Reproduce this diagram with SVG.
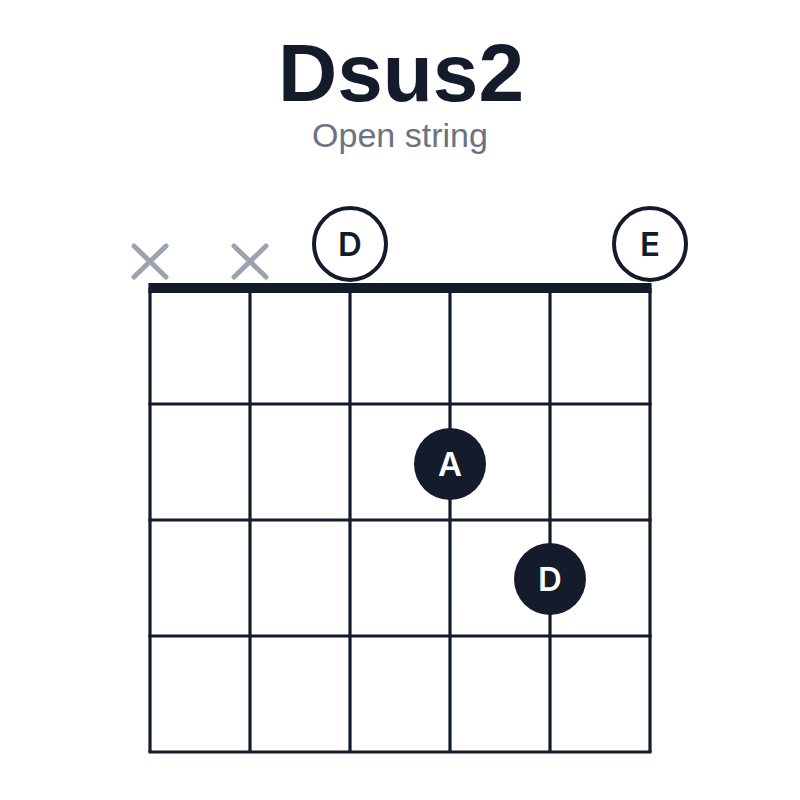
<svg xmlns="http://www.w3.org/2000/svg" width="800" height="800" viewBox="0 0 800 800">
<style>
.title{font-family:"Liberation Sans",Arial,sans-serif;font-weight:bold;font-size:82px;fill:#141b2b;text-anchor:middle}
.sub{font-family:"Liberation Sans",Arial,sans-serif;font-size:34px;fill:#6b7280;text-anchor:middle}
.grid{stroke:#141b2b;stroke-width:3.2;fill:none}
.mute{stroke:#9ca3af;stroke-width:5;stroke-linecap:round}
.open{fill:#fff;stroke:#141b2b;stroke-width:4}
.dot{fill:#141b2b}
.lbl{font-family:Inter,"Liberation Sans",sans-serif;font-weight:600;font-size:33px;text-anchor:middle;dominant-baseline:central}
.lo{fill:#141b2b}
.lf{fill:#fff}
</style>
<rect width="800" height="800" fill="#fff"/>
<text class="title" x="401" y="101">Dsus2</text>
<text class="sub" x="400" y="147">Open string</text>
<g id="grid">
<line class="grid" x1="150" y1="288" x2="150" y2="752"/>
<line class="grid" x1="250" y1="288" x2="250" y2="752"/>
<line class="grid" x1="350" y1="288" x2="350" y2="752"/>
<line class="grid" x1="450" y1="288" x2="450" y2="752"/>
<line class="grid" x1="550" y1="288" x2="550" y2="752"/>
<line class="grid" x1="650" y1="288" x2="650" y2="752"/>
<line class="grid" x1="148.4" y1="404" x2="651.6" y2="404"/>
<line class="grid" x1="148.4" y1="520" x2="651.6" y2="520"/>
<line class="grid" x1="148.4" y1="636" x2="651.6" y2="636"/>
<line class="grid" x1="148.4" y1="752" x2="651.6" y2="752"/>
<rect id="nut" x="148.4" y="283" width="503.2" height="10" fill="#141b2b"/>
</g>
<g id="mute1"><line class="mute" x1="134" y1="246" x2="166" y2="277"/><line class="mute" x1="166" y1="246" x2="134" y2="277"/></g>
<g id="mute2"><line class="mute" x1="234" y1="246" x2="266" y2="277"/><line class="mute" x1="266" y1="246" x2="234" y2="277"/></g>
<g id="open-d"><circle class="open" cx="350" cy="244" r="36"/><text class="lbl lo" x="350" y="244">D</text></g>
<g id="open-e"><circle class="open" cx="650" cy="244" r="36"/><text class="lbl lo" x="650" y="244">E</text></g>
<g id="finger-a"><circle class="dot" cx="450" cy="464" r="36"/><text class="lbl lf" x="450" y="464">A</text></g>
<g id="finger-d"><circle class="dot" cx="550" cy="579" r="36"/><text class="lbl lf" x="550" y="579">D</text></g>
</svg>
